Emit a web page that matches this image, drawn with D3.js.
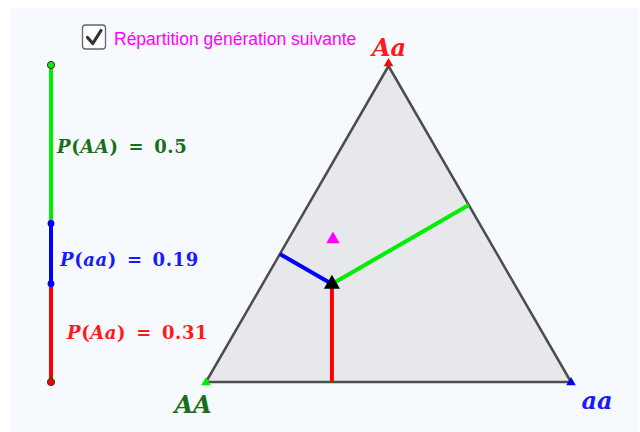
<!DOCTYPE html>
<html><head><meta charset="utf-8">
<script src="https://cdn.jsdelivr.net/npm/d3@7"></script>
<style>html,body{margin:0;padding:0;background:#fff;}svg{display:block;}</style>
</head><body>
<svg id="c" width="640" height="432"></svg>
<script>
// Data
const genotypes = ["AA", "Aa", "aa"];
const probabilities = [0.5, 0.31, 0.19];           // current generation
const nextGeneration = [0.43, 0.45, 0.12];          // "Répartition génération suivante"
const genoColors = ["#00ee00", "#ff0000", "#0000ff"];
const labelColors = ["#1a6e1a", "#ff1a1a", "#1a1aff"];
const checkboxLabel = "Répartition génération suivante";

const svg = d3.select("#c");
svg.append("rect").attr("x",10).attr("y",8).attr("width",629).attr("height",424).attr("fill","#f6f9fd");

// triangle geometry (layout)
const xBase = d3.scaleLinear().domain([0,1]).range([206, 571]);
const yH = d3.scaleLinear().domain([0,1]).range([382, 66]);
const vert = {
  AA: [xBase(0), yH(0)],
  Aa: [xBase(0.5), yH(1)],
  aa: [xBase(1), yH(0)]
};
function bary(w){
  let x=0,y=0;
  genotypes.forEach((g,i)=>{x+=w[i]*vert[g][0]; y+=w[i]*vert[g][1];});
  return [x,y];
}
function foot(p,a,b){
  const dx=b[0]-a[0], dy=b[1]-a[1];
  const t=((p[0]-a[0])*dx+(p[1]-a[1])*dy)/(dx*dx+dy*dy);
  return [a[0]+t*dx, a[1]+t*dy];
}

svg.append("path")
  .attr("d", d3.line()([vert.AA, vert.Aa, vert.aa]) + "Z")
  .attr("fill","#e6e8eb").attr("stroke","#4d4d4d").attr("stroke-width",2.5).attr("stroke-linejoin","round");

const P = bary(probabilities);
const opp = {AA:["Aa","aa"], Aa:["AA","aa"], aa:["AA","Aa"]};
genotypes.forEach((g,i)=>{
  const f = foot(P, vert[opp[g][0]], vert[opp[g][1]]);
  svg.append("line").attr("x1",P[0]).attr("y1",P[1]).attr("x2",f[0]).attr("y2",f[1])
    .attr("stroke",genoColors[i]).attr("stroke-width",4);
});

// vertex markers
const tri = d3.symbol().type(d3.symbolTriangle);
const markerDy = {AA:0.5, Aa:-2.5, aa:0.5};
genotypes.forEach((g,i)=>{
  svg.append("path").attr("d", tri.size(40)()).attr("transform",`translate(${vert[g][0]},${vert[g][1]+markerDy[g]})`)
    .attr("fill",genoColors[i]);
});
const N = bary(nextGeneration);
svg.append("path").attr("d", tri.size(78)()).attr("transform",`translate(${N[0]+1},${N[1]-0.5})`).attr("fill","#ff00ff");
svg.append("path").attr("d", tri.size(112)()).attr("transform",`translate(${P[0]},${P[1]})`).attr("fill","#000");

// vertex labels
function mathLabel(x,y,txt,color,size,anchor){
  svg.append("text").attr("x",x).attr("y",y).attr("fill",color)
    .attr("font-family","'DejaVu Serif','Liberation Serif',serif").attr("font-style","italic").attr("font-weight","bold")
    .attr("font-size",size).attr("text-anchor",anchor||"middle").text(txt);
}
mathLabel(389, 56, "Aa", labelColors[1], 24);
mathLabel(193, 413, "AA", labelColors[0], 24);
mathLabel(597, 409, "aa", labelColors[2], 24);

// left stacked bar
const yBar = d3.scaleLinear().domain([0,1]).range([382, 65]);
const barOrder = [1, 2, 0];
let cum = 0;
const segs = barOrder.map(i=>{const s={i, y0:cum, y1:cum+probabilities[i]}; cum+=probabilities[i]; return s;});
const bx = 51;
segs.forEach(s=>{
  svg.append("line").attr("x1",bx).attr("x2",bx).attr("y1",yBar(s.y0)).attr("y2",yBar(s.y1))
    .attr("stroke",genoColors[s.i]).attr("stroke-width",4);
});
svg.append("circle").attr("cx",bx).attr("cy",yBar(0)).attr("r",3.6).attr("fill","#ff0000").attr("stroke","#333").attr("stroke-width",1);
svg.append("circle").attr("cx",bx).attr("cy",yBar(segs[0].y1)).attr("r",3.4).attr("fill","#0000ff");
svg.append("circle").attr("cx",bx).attr("cy",yBar(segs[1].y1)).attr("r",3.4).attr("fill","#0000ff");
svg.append("circle").attr("cx",bx).attr("cy",yBar(1)).attr("r",3.6).attr("fill","#00ee00").attr("stroke","#333").attr("stroke-width",1);

// bar labels
const labelPos = {0:[57,153], 2:[60,266], 1:[67,339]};
[0,2,1].forEach(i=>{
  const t = svg.append("text").attr("x",labelPos[i][0]).attr("y",labelPos[i][1]).attr("fill",labelColors[i])
    .attr("font-family","'DejaVu Serif','Liberation Serif',serif").attr("font-weight","bold").attr("font-size",18)
    .attr("letter-spacing",0.6);
  t.append("tspan").attr("font-style","italic").text("P");
  t.append("tspan").text("(");
  t.append("tspan").attr("font-style","italic").text(genotypes[i]);
  t.append("tspan").text(")");
  t.append("tspan").attr("dx",10).text("=");
  t.append("tspan").attr("dx",10).text(String(probabilities[i]));
});

// checkbox
svg.append("rect").attr("x",82.5).attr("y",25).attr("width",23).attr("height",24).attr("rx",3)
  .attr("fill","#fff").attr("stroke","#666").attr("stroke-width",1.3);
svg.append("path").attr("d","M87.5,37.5 L92.8,43.5 L101,30.5").attr("fill","none").attr("stroke","#333")
  .attr("stroke-width",3.2).attr("stroke-linecap","round").attr("stroke-linejoin","round");
svg.append("text").attr("x",114).attr("y",45).attr("fill","#ff00ff")
  .attr("font-family","'Liberation Sans',Arial,sans-serif").attr("font-size",17.5).text(checkboxLabel);
</script>
</body></html>
